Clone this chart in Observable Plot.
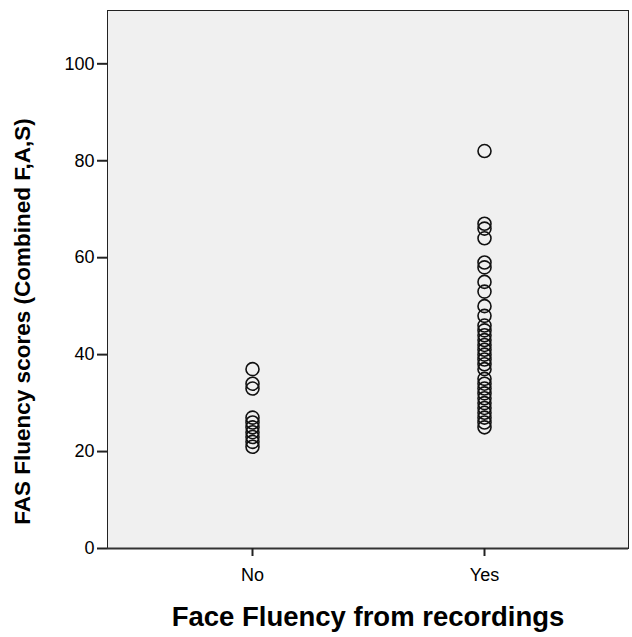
<!DOCTYPE html>
<html>
<head>
<meta charset="utf-8">
<script src="https://cdn.jsdelivr.net/npm/d3@7"></script>
<script src="https://cdn.jsdelivr.net/npm/@observablehq/plot@0.6"></script>
<style>
  html, body { margin: 0; padding: 0; background: #fff; }
  svg { display: block; }
</style>
</head>
<body>
<div id="chart"></div>
<script>
const categories = ["No", "Yes"];
const noScores = [37, 34, 33, 27, 26, 25, 24, 23, 22, 21];
const yesScores = [82, 67, 66, 64, 59, 58, 55, 53, 50, 48, 46, 45, 44, 43, 42, 41, 40, 39, 38, 37, 35, 34, 33, 32, 31, 30, 29, 28, 27, 26, 25];
const yTicks = [0, 20, 40, 60, 80, 100];
const xTitle = "Face Fluency from recordings";
const yTitle = "FAS Fluency scores (Combined F,A,S)";

const data = [
  ...noScores.map(v => ({group: categories[0], score: v})),
  ...yesScores.map(v => ({group: categories[1], score: v}))
];

const font = "'Liberation Sans', Arial, sans-serif";

const chart = Plot.plot({
  width: 632,
  height: 637,
  marginLeft: 107,
  marginRight: 4,
  marginTop: 10,
  marginBottom: 89,
  style: {fontFamily: font, background: "#ffffff", color: "#000"},
  x: {type: "point", domain: categories, padding: 0.62},
  y: {domain: [0, 111]},
  marks: [
    Plot.frame({fill: "#f0f0f0", stroke: "#222", strokeWidth: 1}),
    Plot.ruleX([0], {frameAnchor: "left", stroke: "#333", strokeWidth: 2}),
    Plot.ruleY([0], {stroke: "#333", strokeWidth: 2}),
    Plot.axisY({ticks: yTicks, tickSize: 10, tickPadding: 3, fontSize: 18, label: null, stroke: "#222", strokeWidth: 2}),
    Plot.axisX({tickSize: 8, tickPadding: 12, fontSize: 18, label: null, stroke: "#222", strokeWidth: 2}),
    Plot.dot(data, {x: "group", y: "score", r: 6.5, stroke: "#111", strokeWidth: 1.6, fill: "none"}),
    Plot.text([xTitle], {frameAnchor: "bottom", dy: 77, fontSize: 27.5, fontWeight: "bold", fill: "#000"}),
    Plot.text([yTitle], {frameAnchor: "left", textAnchor: "middle", rotate: -90, dx: -85, dy: 42, fontSize: 22.5, fontWeight: "bold", fill: "#000"})
  ]
});
document.getElementById("chart").appendChild(chart);
</script>
</body>
</html>
